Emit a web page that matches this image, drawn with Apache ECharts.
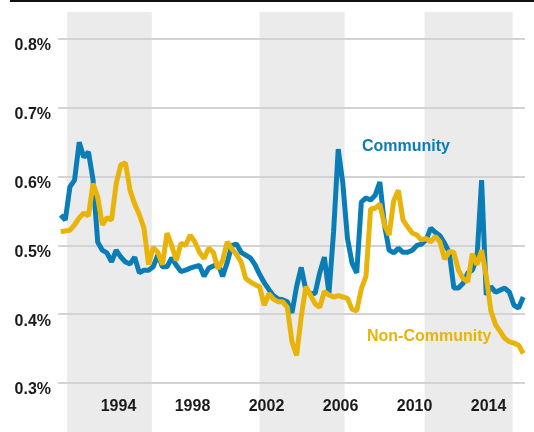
<!DOCTYPE html>
<html>
<head>
<meta charset="utf-8">
<script src="https://cdn.jsdelivr.net/npm/echarts@6/dist/echarts.min.js"></script>
<style>
  html, body { margin: 0; padding: 0; background: #fff; }
  #main { width: 534px; height: 432px; }
</style>
</head>
<body>
<div id="main"></div>
<script>
// quarterly readings, first point = Q4 1990 (mid-quarter)
var firstQuarter = 1990.875;

var community = [
  0.544, 0.537, 0.585, 0.595, 0.650, 0.628, 0.636, 0.595, 0.505, 0.493,
  0.489, 0.476, 0.493, 0.483, 0.476, 0.473, 0.483, 0.460, 0.464, 0.464,
  0.469, 0.486, 0.469, 0.469, 0.482, 0.471, 0.462, 0.464, 0.467, 0.469,
  0.471, 0.455, 0.467, 0.470, 0.474, 0.455, 0.475, 0.500, 0.502, 0.490,
  0.486, 0.482, 0.472, 0.458, 0.446, 0.436, 0.427, 0.422, 0.421, 0.418,
  0.402, 0.440, 0.468, 0.435, 0.430, 0.430, 0.460, 0.483, 0.430, 0.520,
  0.640, 0.590, 0.510, 0.474, 0.460, 0.563, 0.569, 0.566, 0.573, 0.592,
  0.530, 0.493, 0.489, 0.496, 0.490, 0.490, 0.493, 0.500, 0.502, 0.508,
  0.525, 0.519, 0.514, 0.503, 0.490, 0.438, 0.438, 0.445, 0.460, 0.464,
  0.482, 0.595, 0.428, 0.440, 0.432, 0.435, 0.438, 0.432, 0.413, 0.409,
  0.425
];

var nonCommunity = [
  0.520, 0.521, 0.522, 0.530, 0.540, 0.547, 0.543, 0.590, 0.570, 0.530,
  0.540, 0.537, 0.590, 0.617, 0.620, 0.580, 0.560, 0.545, 0.525, 0.472,
  0.497, 0.490, 0.472, 0.518, 0.500, 0.478, 0.503, 0.500, 0.515, 0.505,
  0.490, 0.481, 0.496, 0.490, 0.466, 0.478, 0.505, 0.495, 0.487, 0.476,
  0.452, 0.447, 0.443, 0.440, 0.413, 0.430, 0.422, 0.418, 0.418, 0.410,
  0.360, 0.340, 0.396, 0.440, 0.428, 0.415, 0.410, 0.433, 0.428, 0.425,
  0.427, 0.425, 0.423, 0.407, 0.405, 0.437, 0.455, 0.553, 0.554, 0.560,
  0.530, 0.515, 0.565, 0.580, 0.537, 0.527, 0.518, 0.515, 0.508, 0.510,
  0.505, 0.513, 0.505, 0.480, 0.491, 0.490, 0.464, 0.452, 0.447, 0.488,
  0.472, 0.493, 0.455, 0.405, 0.385, 0.375, 0.365, 0.360, 0.358, 0.355,
  0.343
];

var yearLabels = [1994, 1998, 2002, 2006, 2010, 2014];
var shadedSpans = [[1991.22, 1995.8], [2001.62, 2006.22], [2010.54, 2015.3]];

var font = "'Liberation Sans Narrow', 'Arial Narrow', 'Liberation Sans', sans-serif";
var blue = '#0a7db6';
var gold = '#e8b40a';
var xMin = 1990.73, xMax = 2015.97;

function withYears(values) {
  return values.map(function (v, i) { return [firstQuarter + i * 0.25, v]; });
}

var chartDom = document.getElementById('main');
var myChart = echarts.init(chartDom, null, { renderer: 'canvas' });

var option = {
  animation: false,
  backgroundColor: '#fff',
  title: [
    {
      text: 'Community',
      left: 362, top: 139, padding: 0,
      textStyle: { fontFamily: font, fontWeight: 'bold', fontSize: 16, color: blue }
    },
    {
      text: 'Non-Community',
      left: 367, top: 329, padding: 0,
      textStyle: { fontFamily: font, fontWeight: 'bold', fontSize: 16, color: gold }
    }
  ],
  graphic: [
    { type: 'rect', shape: { x: 10, y: 0, width: 524, height: 2 }, style: { fill: '#111' } }
  ],
  grid: [
    { left: 58, right: 9, top: 39, bottom: 49 },
    { left: 58, right: 9, top: 12, bottom: 0 }
  ],
  xAxis: [
    {
      type: 'value', gridIndex: 0, min: xMin, max: xMax, z: 5,
      axisLine: { show: false }, axisTick: { show: false }, splitLine: { show: false },
      axisLabel: {
        customValues: yearLabels,
        margin: 16,
        fontFamily: font, fontWeight: 'bold', fontSize: 16, color: '#1a1a1a',
        formatter: function (v) { return String(Math.round(v)); }
      }
    },
    {
      type: 'value', gridIndex: 1, min: xMin, max: xMax, show: false
    }
  ],
  yAxis: [
    {
      type: 'value', gridIndex: 0, min: 0.3, max: 0.8, interval: 0.1,
      axisLine: { show: false }, axisTick: { show: false },
      splitLine: { lineStyle: { color: '#d3d3d3', width: 2 } },
      axisLabel: {
        margin: 7,
        verticalAlign: 'top',
        lineHeight: 14,
        fontFamily: font, fontWeight: 'bold', fontSize: 16, color: '#1a1a1a',
        formatter: function (v) { return v.toFixed(1) + '%'; }
      }
    },
    { type: 'value', gridIndex: 1, min: 0, max: 1, show: false }
  ],
  series: [
    {
      name: 'bands', type: 'line', xAxisIndex: 1, yAxisIndex: 1, z: -5,
      data: [], silent: true,
      markArea: {
        z: -5,
        silent: true,
        itemStyle: { color: '#ebebeb' },
        data: shadedSpans.map(function (s) { return [{ xAxis: s[0] }, { xAxis: s[1] }]; })
      }
    },
    {
      name: 'Community', type: 'line', data: withYears(community),
      showSymbol: false, lineStyle: { color: blue, width: 5 }, itemStyle: { color: blue }
    },
    {
      name: 'Non-Community', type: 'line', data: withYears(nonCommunity),
      showSymbol: false, lineStyle: { color: gold, width: 5 }, itemStyle: { color: gold }
    }
  ]
};

myChart.setOption(option);
window.addEventListener('resize', function () { myChart.resize(); });
</script>
</body>
</html>
